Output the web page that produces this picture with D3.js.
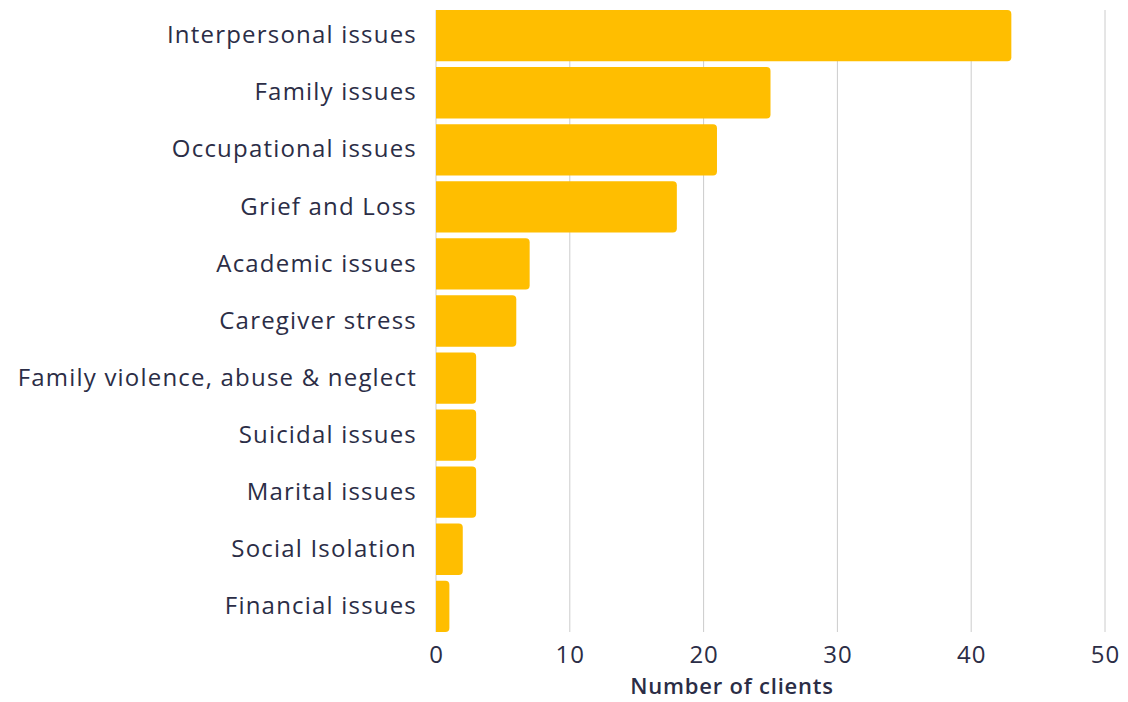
<!DOCTYPE html>
<html>
<head>
<meta charset="utf-8">
<script src="https://cdn.jsdelivr.net/npm/d3@7"></script>
<style>
  body { margin: 0; background: #fff; }
  text { font-family: "Open Sans", "Noto Sans", sans-serif; fill: #2b2d46; }
</style>
</head>
<body>
<div id="chart"></div>
<script>
var categories = ["Interpersonal issues", "Family issues", "Occupational issues", "Grief and Loss",
    "Academic issues", "Caregiver stress", "Family violence, abuse & neglect", "Suicidal issues",
    "Marital issues", "Social Isolation", "Financial issues"];
var clients = [43, 25, 21, 18, 7, 6, 3, 3, 3, 2, 1];
var xTicks = [0, 10, 20, 30, 40, 50];

var width = 1128,
    height = 702,
    plotLeft = 436,
    plotRight = 1105,
    plotTop = 10,
    plotBottom = 632;

var svg = d3.select("#chart").append("svg")
    .attr("width", width)
    .attr("height", height);

var x = d3.scaleLinear()
    .domain([0, 50])
    .range([plotLeft, plotRight]);

var y = d3.scaleBand()
    .domain(categories)
    .range([plotTop, plotBottom])
    .paddingInner(0.1)
    .paddingOuter(0);

// grid
svg.append("g")
    .selectAll("line")
    .data(xTicks)
  .enter().append("line")
    .attr("x1", function(d) { return x(d); })
    .attr("x2", function(d) { return x(d); })
    .attr("y1", plotTop)
    .attr("y2", plotBottom)
    .attr("stroke", "#cccccc")
    .attr("stroke-width", 1);

// bars with rounded right end
function barPath(d, i) {
    var x0 = x(0), x1 = x(d), y0 = y(categories[i]), h = y.bandwidth();
    var r = Math.min(4, (x1 - x0) / 2);
    return "M" + x0 + "," + y0 +
        "H" + (x1 - r) +
        "Q" + x1 + "," + y0 + " " + x1 + "," + (y0 + r) +
        "V" + (y0 + h - r) +
        "Q" + x1 + "," + (y0 + h) + " " + (x1 - r) + "," + (y0 + h) +
        "H" + x0 + "Z";
}

svg.append("g")
    .selectAll("path")
    .data(clients)
  .enter().append("path")
    .attr("d", barPath)
    .attr("fill", "#ffbe00");

// y labels
var yAxis = svg.append("g")
    .attr("transform", "translate(" + (plotLeft - 19) + ",0)")
    .call(d3.axisLeft(y).tickSize(0).tickPadding(0));
yAxis.select(".domain").remove();
yAxis.selectAll("text")
    .style("font-size", "24px")
    .style("letter-spacing", "1.2px")
    .style("font-family", "'Open Sans', sans-serif")
    .attr("fill", "#2b2d46");

// x axis
var xAxis = svg.append("g")
    .attr("transform", "translate(0," + plotBottom + ")")
    .call(d3.axisBottom(x).tickValues(xTicks).tickSize(0).tickPadding(14));
xAxis.select(".domain").remove();
xAxis.selectAll("text")
    .style("font-size", "24px")
    .style("letter-spacing", "1px")
    .style("font-family", "'Open Sans', sans-serif")
    .attr("fill", "#2b2d46");

svg.append("text")
    .attr("x", 732)
    .attr("y", 694)
    .attr("text-anchor", "middle")
    .style("font-size", "22px")
    .style("letter-spacing", "0.8px")
    .style("font-weight", "600")
    .text("Number of clients");
</script>
</body>
</html>
